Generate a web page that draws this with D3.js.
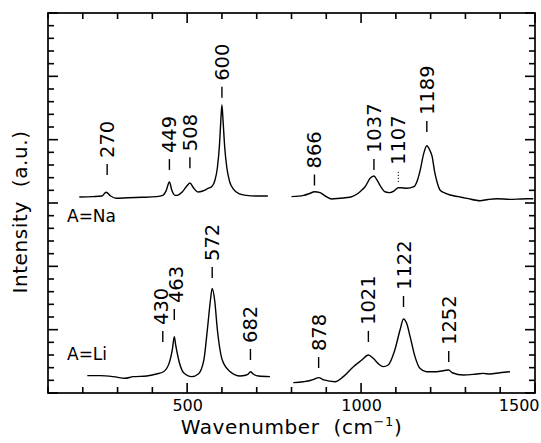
<!DOCTYPE html>
<html>
<head>
<meta charset="utf-8">
<script src="https://cdn.jsdelivr.net/npm/d3@7"></script>
<style>
  html, body { margin: 0; padding: 0; background: #fff; }
  svg { display: block; font-family: "DejaVu Sans", "Liberation Sans", sans-serif; }
</style>
</head>
<body>
<svg id="chart" width="541" height="443"></svg>
<script>
// Raman spectra of the two samples, [wavenumber (cm^-1), intensity (a.u.)]
const naLow = [
  [190, 15.47], [230, 15.5], [255, 15.55], [267, 15.85], [280, 15.55], [297, 15.37],
  [330, 15.42], [370, 15.45], [412, 15.5], [430, 15.6], [440, 16.0], [449, 16.66],
  [456, 16.0], [464, 15.62], [471, 15.6], [485, 15.85], [498, 16.3], [508, 16.58],
  [518, 16.2], [531, 15.87], [545, 15.95], [560, 16.15], [571, 16.3], [580, 16.8],
  [587, 17.8], [593, 19.6], [597, 21.6], [600, 22.75], [603, 21.6], [608, 19.4],
  [614, 17.8], [622, 16.7], [633, 16.1], [650, 15.72], [670, 15.6], [700, 15.55], [732, 15.55]
];
const naHigh = [
  [800, 15.5], [835, 15.6], [852, 15.75], [866, 15.89], [882, 15.82], [900, 15.5],
  [915, 15.32], [940, 15.38], [968, 15.45], [985, 15.65], [997, 15.89], [1012, 16.3],
  [1026, 16.95], [1037, 17.13], [1046, 16.8], [1054, 16.42], [1069, 15.89], [1083, 15.82],
  [1096, 15.98], [1107, 16.2], [1115, 16.2], [1131, 16.16], [1152, 16.29], [1162, 16.8],
  [1170, 17.6], [1180, 18.9], [1189, 19.52], [1197, 19.2], [1204, 18.7], [1212, 17.4],
  [1219, 16.6], [1227, 16.03], [1240, 15.8], [1256, 15.63], [1280, 15.5], [1304, 15.37],
  [1342, 15.18], [1365, 15.28], [1390, 15.34], [1428, 15.29], [1460, 15.32], [1495, 15.34]
];
const liLow = [
  [213, 1.37], [250, 1.37], [288, 1.29], [321, 1.16], [345, 1.29], [384, 1.34],
  [412, 1.5], [432, 1.68], [448, 2.34], [458, 3.53], [463, 4.45], [467, 3.79],
  [477, 2.47], [490, 1.6], [513, 1.29], [532, 1.5], [548, 2.6], [558, 4.97],
  [567, 7.34], [572, 8.26], [579, 7.34], [587, 4.97], [601, 2.6], [624, 1.68],
  [652, 1.34], [668, 1.4], [676, 1.5], [682, 1.68], [690, 1.5], [705, 1.34], [738, 1.29]
];
const liHigh = [
  [805, 0.82], [834, 0.89], [848, 0.95], [866, 1.1], [878, 1.21], [893, 1.03],
  [925, 0.89], [949, 1.29], [978, 2.08], [1002, 2.6], [1021, 3.0], [1035, 2.74],
  [1050, 2.3], [1064, 2.08], [1078, 2.21], [1097, 3.39], [1112, 4.97], [1122, 5.84],
  [1131, 5.5], [1141, 4.45], [1155, 2.87], [1169, 1.95], [1188, 1.68], [1217, 1.68],
  [1240, 1.78], [1252, 1.82], [1262, 1.6], [1294, 1.42], [1332, 1.5], [1351, 1.55],
  [1370, 1.5], [1399, 1.6], [1428, 1.68]
];

// Assigned bands and the intensity level where each marker starts
const naPeaks = [270, 449, 508, 600, 866, 1037, 1107, 1189];
const naPeakLevels = [17.21, 17.6, 17.75, 23.3, 16.38, 17.6, 16.66, 20.6];
const naWeakBands = [1107];
const liPeaks = [430, 463, 572, 682, 878, 1021, 1122, 1252];
const liPeakLevels = [4.03, 5.76, 9.08, 2.61, 1.97, 4.03, 6.79, 2.45];

const sampleNames = ["A=Na", "A=Li"];
const sampleNameLevels = [13.5, 2.6];

// Axes
const xDomain = [100, 1500];
const yDomain = [0, 30];
const xTickLabels = [500, 1000, 1500];
const xMinorTicks = d3.range(100, 1501, 100);
const yMajorTicks = d3.range(0, 31, 5);
const yMinorTicks = d3.range(0, 31, 1);
const xTitle = "Wavenumber  (cm";
const xTitleSup = "\u22121";
const yTitle = "Intensity  (a.u.)";

const svg = d3.select("#chart");
const plotLeft = 48, plotRight = 535, plotTop = 13, plotBottom = 393;

const x = d3.scaleLinear().domain(xDomain).range([plotLeft, plotRight]);
const y = d3.scaleLinear().domain(yDomain).range([plotBottom, plotTop]);

// Inward ticks on all four sides of the frame
const tickGroup = svg.append("g")
  .attr("stroke", "#000")
  .attr("stroke-width", 1.6)
  .attr("fill", "none");
const xMajorSet = new Set(xTickLabels);
const yMajorSet = new Set(yMajorTicks);
const xLen = v => (xMajorSet.has(v) ? 10 : 6);
const yLen = v => (yMajorSet.has(v) ? 10 : 6);

tickGroup.selectAll("line.xb").data(xMinorTicks).join("line")
  .attr("class", "xb")
  .attr("x1", d => x(d)).attr("x2", d => x(d))
  .attr("y1", plotBottom).attr("y2", d => plotBottom - xLen(d));
tickGroup.selectAll("line.xt").data(xMinorTicks).join("line")
  .attr("class", "xt")
  .attr("x1", d => x(d)).attr("x2", d => x(d))
  .attr("y1", plotTop).attr("y2", d => plotTop + xLen(d));
tickGroup.selectAll("line.yl").data(yMinorTicks).join("line")
  .attr("class", "yl")
  .attr("y1", d => y(d)).attr("y2", d => y(d))
  .attr("x1", plotLeft).attr("x2", d => plotLeft + yLen(d));
tickGroup.selectAll("line.yr").data(yMinorTicks).join("line")
  .attr("class", "yr")
  .attr("y1", d => y(d)).attr("y2", d => y(d))
  .attr("x1", plotRight).attr("x2", d => plotRight - yLen(d));

// Bottom tick labels
const xLabels = svg.append("g")
  .attr("transform", `translate(0,${plotBottom})`)
  .call(d3.axisBottom(x).tickValues(xTickLabels).tickSize(0).tickPadding(7).tickFormat(d3.format("d")));
xLabels.select(".domain").remove();
xLabels.selectAll(".tick line").remove();
xLabels.selectAll("text")
  .attr("font-family", "DejaVu Sans, sans-serif")
  .attr("font-size", 16)
  .attr("fill", "#000");
// the last label is kept inside the page edge
xLabels.selectAll(".tick").filter(d => d === xDomain[1]).select("text")
  .attr("text-anchor", "end").attr("x", 4);

// Frame
svg.append("rect")
  .attr("x", plotLeft).attr("y", plotTop)
  .attr("width", plotRight - plotLeft).attr("height", plotBottom - plotTop)
  .attr("fill", "none").attr("stroke", "#000").attr("stroke-width", 1.7);

// Spectra
const line = d3.line()
  .x(d => x(d[0]))
  .y(d => y(d[1]))
  .curve(d3.curveMonotoneX);

[naLow, naHigh, liLow, liHigh].forEach(seg => {
  svg.append("path")
    .datum(seg)
    .attr("d", line)
    .attr("fill", "none")
    .attr("stroke", "#000")
    .attr("stroke-width", 1.4)
    .attr("stroke-linejoin", "round");
});

// Band markers: a short dash above the band, then the wavenumber read upwards.
// Neighbouring numbers that would touch are spread apart a little.
const labelSize = 19.5;
const minLabelGap = 14.5;
function bandMarkers(peaks, levels, weak) {
  const g = svg.append("g");
  const tx = peaks.map(p => x(p));
  for (let i = 1; i < tx.length; i++) {
    const gap = tx[i] - tx[i - 1];
    if (gap < minLabelGap) {
      const push = (minLabelGap - gap) / 2;
      tx[i - 1] -= push;
      tx[i] += push;
    }
  }
  peaks.forEach((p, i) => {
    const px = x(p), py = y(levels[i]);
    g.append("line")
      .attr("x1", px).attr("x2", px)
      .attr("y1", py).attr("y2", py - 11)
      .attr("stroke", "#000")
      .attr("stroke-width", weak.includes(p) ? 1 : 1.4)
      .attr("stroke-dasharray", weak.includes(p) ? "1.2,1.8" : null);
    g.append("text")
      .attr("transform", `translate(${tx[i]},${py - 17}) rotate(-90)`)
      .attr("dy", "0.36em")
      .attr("text-anchor", "start")
      .attr("font-size", labelSize)
      .attr("fill", "#000")
      .text(p);
  });
}
bandMarkers(naPeaks, naPeakLevels, naWeakBands);
bandMarkers(liPeaks, liPeakLevels, []);

// Sample names
sampleNames.forEach((name, i) => {
  svg.append("text")
    .attr("x", 67)
    .attr("y", y(sampleNameLevels[i]))
    .attr("font-size", 17)
    .attr("fill", "#000")
    .text(name);
});

// Axis titles
const xt = svg.append("text")
  .attr("x", (plotLeft + plotRight) / 2)
  .attr("y", 434)
  .attr("text-anchor", "middle")
  .attr("font-size", 20)
  .attr("letter-spacing", 0.6)
  .attr("fill", "#000")
  .style("white-space", "pre");
xt.append("tspan").text(xTitle);
xt.append("tspan").attr("font-size", 13).attr("dy", -8).text(xTitleSup);
xt.append("tspan").attr("dy", 8).text(")");

svg.append("text")
  .attr("transform", `translate(27,${(plotTop + plotBottom) / 2 + 9}) rotate(-90)`)
  .attr("text-anchor", "middle")
  .attr("font-size", 20)
  .attr("letter-spacing", 0.6)
  .attr("fill", "#000")
  .style("white-space", "pre")
  .text(yTitle);
</script>
</body>
</html>
